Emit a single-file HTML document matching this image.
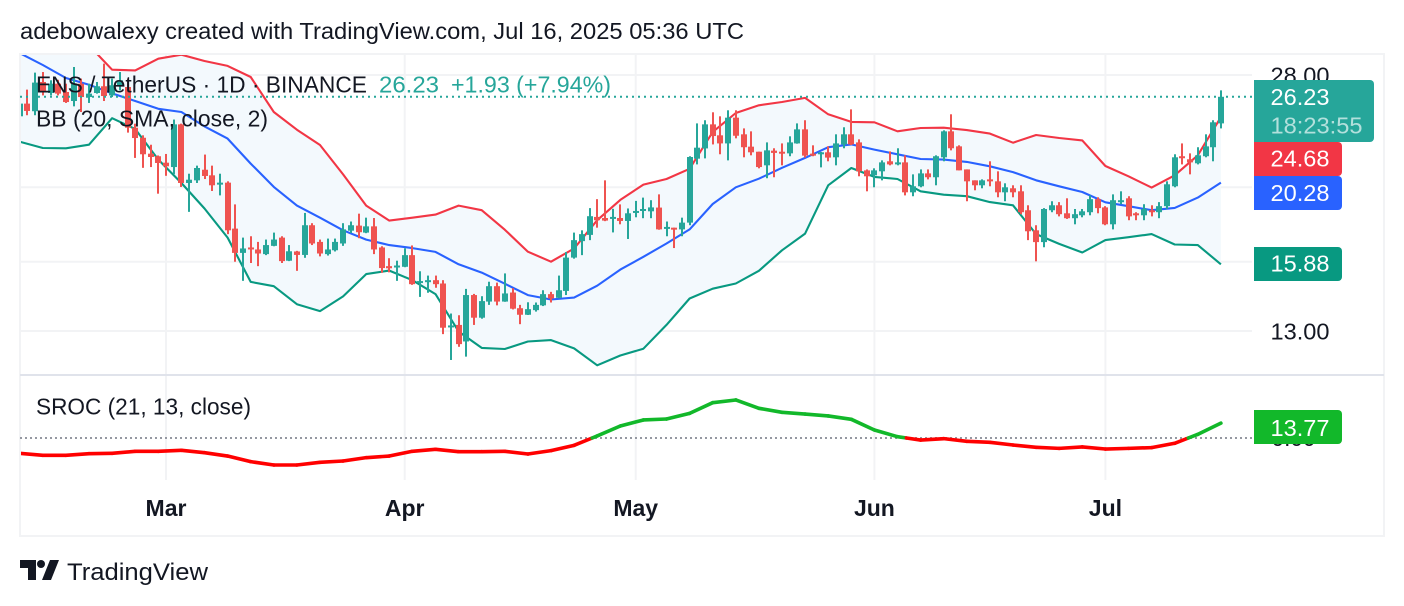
<!DOCTYPE html>
<html lang="en">
<head>
<meta charset="utf-8">
<title>ENS / TetherUS chart</title>
<style>
html,body{margin:0;padding:0;background:#fff;width:1404px;height:606px;overflow:hidden}
svg{display:block}
text{font-family:"Liberation Sans",sans-serif;fill:#131722}
</style>
</head>
<body>
<svg id="chart" xmlns="http://www.w3.org/2000/svg" width="1404" height="606" viewBox="0 0 1404 606">
  <defs>
    <clipPath id="main-clip"><rect x="21" y="55" width="1231" height="319"/></clipPath>
    <clipPath id="sub-clip"><rect x="21" y="376" width="1231" height="104"/></clipPath>
  </defs>
  <rect x="0" y="0" width="1404" height="606" fill="#ffffff"/>
  <text x="20" y="39" font-size="23" textLength="724" lengthAdjust="spacingAndGlyphs">adebowalexy created with TradingView.com, Jul 16, 2025 05:36 UTC</text>
  <rect x="20" y="54" width="1364" height="482" fill="none" stroke="#f2f3f5" stroke-width="2"/>
  <g id="grid"></g>
  <line x1="20" y1="375" x2="1384" y2="375" stroke="#e0e3eb" stroke-width="2"/>
  <g clip-path="url(#main-clip)">
    <polygon id="bb-band" fill="#f3f9fd"/>
    <polyline id="bb-upper" fill="none" stroke="#f23645" stroke-width="2.1" stroke-linejoin="round"/>
    <polyline id="bb-basis" fill="none" stroke="#2962ff" stroke-width="2.1" stroke-linejoin="round"/>
    <polyline id="bb-lower" fill="none" stroke="#089981" stroke-width="2.1" stroke-linejoin="round"/>
    <g id="candles"></g>
  </g>
  <line id="last-price-line" x1="20" x2="1254" stroke="#26a69a" stroke-width="2" stroke-dasharray="2 4"/>
  <line id="zero-line" x1="20" x2="1254" stroke="#9598a1" stroke-width="2" stroke-dasharray="2 3"/>
  <g clip-path="url(#sub-clip)" id="sroc"></g>
  <g id="price-axis"></g>
  <g id="time-axis"></g>

  <text x="36" y="92.5" font-size="23" textLength="331" lengthAdjust="spacingAndGlyphs">ENS / TetherUS · 1D · BINANCE</text>
  <text x="379" y="92.5" font-size="23" style="fill:#26a69a" textLength="60" lengthAdjust="spacingAndGlyphs">26.23</text>
  <text x="451" y="92.5" font-size="23" style="fill:#26a69a" textLength="160" lengthAdjust="spacingAndGlyphs">+1.93 (+7.94%)</text>
  <text x="36" y="126.7" font-size="23" textLength="232" lengthAdjust="spacingAndGlyphs">BB (20, SMA, close, 2)</text>
  <text x="36" y="414.7" font-size="23" textLength="215" lengthAdjust="spacingAndGlyphs">SROC (21, 13, close)</text>

  <path d="M1254 80H1370a4 4 0 0 1 4 4V138a4 4 0 0 1-4 4H1254Z" fill="#26a69a"/>
  <text x="1270.5" y="105" font-size="23" style="fill:#ffffff" textLength="59" lengthAdjust="spacingAndGlyphs">26.23</text>
  <text x="1270.5" y="133.3" font-size="23" style="fill:#ffffff;fill-opacity:.65" textLength="92" lengthAdjust="spacingAndGlyphs">18:23:55</text>
  <path d="M1254 142H1338a4 4 0 0 1 4 4V172a4 4 0 0 1-4 4H1254Z" fill="#f23645"/>
  <text x="1270.5" y="166.7" font-size="23" style="fill:#ffffff" textLength="59" lengthAdjust="spacingAndGlyphs">24.68</text>
  <path d="M1254 176H1338a4 4 0 0 1 4 4V206a4 4 0 0 1-4 4H1254Z" fill="#2962ff"/>
  <text x="1270.5" y="201" font-size="23" style="fill:#ffffff" textLength="59" lengthAdjust="spacingAndGlyphs">20.28</text>
  <path d="M1254 247H1338a4 4 0 0 1 4 4V277a4 4 0 0 1-4 4H1254Z" fill="#089981"/>
  <text x="1270.5" y="271.7" font-size="23" style="fill:#ffffff" textLength="59" lengthAdjust="spacingAndGlyphs">15.88</text>
  <text x="1271.5" y="446" font-size="23" textLength="44" lengthAdjust="spacingAndGlyphs">0.00</text>
  <path d="M1254 410H1338a4 4 0 0 1 4 4V440a4 4 0 0 1-4 4H1254Z" fill="#12b82a"/>
  <text x="1270.5" y="436" font-size="23" style="fill:#ffffff" textLength="59" lengthAdjust="spacingAndGlyphs">13.77</text>

  <g>
    <path d="M20 560H36V580H28V568H20Z M50 560H59L51 580H42Z" fill="#131722"/>
    <circle cx="41" cy="564" r="4" fill="#131722"/>
    <text x="67" y="580" font-size="24.5" textLength="141" lengthAdjust="spacingAndGlyphs">TradingView</text>
  </g>
</svg>
<script>
const opens = [
24.74,25.70,25.12,27.42,26.53,27.28,26.61,25.90,27.28,26.21,26.53,27.07,26.34,27.15,27.01,23.91,23.20,22.12,21.95,
21.53,21.25,24.15,20.26,20.42,21.08,20.73,20.22,20.28,17.67,16.43,16.70,16.60,16.37,16.78,17.20,16.05,16.50,16.33,17.85,16.98,16.37,16.56,16.90,17.56,17.83,17.46,17.79,16.70,15.79,15.76,
15.76,16.32,15.03,15.07,15.14,14.99,13.20,13.24,12.60,14.48,13.53,14.20,14.87,14.20,14.59,13.92,13.65,13.84,14.04,14.52,14.36,14.66,16.20,17.02,17.34,18.30,18.24,18.22,18.24,18.08,
18.55,18.63,18.61,18.82,17.67,17.72,17.63,17.99,21.79,22.47,24.15,23.37,22.81,24.64,23.44,22.59,22.25,21.36,22.32,22.25,22.14,22.81,23.79,22.12,22.08,22.21,21.88,22.74,23.44,22.88,21.04,
20.73,20.98,21.62,21.42,21.55,19.70,20.06,20.85,20.61,21.88,23.65,22.61,21.10,20.42,20.12,20.48,20.36,19.70,19.94,19.76,18.67,17.58,16.97,18.67,18.95,18.50,18.23,18.39,18.56,19.30,
18.83,17.90,19.13,19.35,18.50,18.39,18.67,18.56,18.90,20.06,21.95,21.75,21.49,21.95,22.55,24.22];
const highs = [
25.82,26.80,28.20,28.25,27.56,27.60,27.28,28.68,27.70,27.28,27.42,28.97,27.70,28.25,27.70,24.20,23.37,22.72,22.00,
22.10,24.50,24.20,20.83,21.34,22.06,21.34,20.83,20.36,19.00,17.20,17.27,16.98,17.10,17.46,17.27,16.82,16.53,18.52,17.96,17.10,17.15,17.15,17.96,18.05,18.48,18.26,18.24,16.76,16.17,16.05,
16.66,16.80,15.55,15.35,15.35,15.14,13.70,13.63,14.75,14.53,14.43,15.07,15.03,15.45,14.78,14.06,14.17,14.16,14.69,14.62,15.35,16.47,17.46,17.58,18.79,19.30,20.42,18.75,19.00,18.77,
19.20,19.39,19.24,19.58,18.05,17.72,18.26,21.95,24.22,24.45,25.04,24.74,25.19,25.19,23.86,23.65,22.25,22.88,22.48,22.81,23.30,24.22,24.45,22.68,22.23,22.61,23.44,23.94,25.26,23.09,21.10,
21.17,21.68,22.27,22.48,22.01,20.79,21.10,21.10,22.01,23.72,24.89,22.68,21.10,20.42,20.48,21.62,20.98,20.24,20.12,20.12,18.95,17.85,18.79,19.18,19.13,19.35,18.74,18.74,19.52,19.41,
18.90,19.58,19.76,19.47,18.56,19.01,18.95,19.13,20.36,22.08,22.81,22.14,22.55,23.44,24.45,26.74];
const lows = [
23.96,24.82,24.82,26.34,26.34,26.34,25.75,25.49,25.06,25.75,26.48,25.90,26.21,26.74,23.56,21.84,21.20,21.25,19.62,
20.70,20.80,20.02,18.58,20.26,20.50,19.78,19.52,17.38,16.00,15.11,15.94,15.79,16.32,16.76,15.94,16.03,15.57,16.19,16.82,16.26,16.30,16.50,16.78,17.44,17.17,17.43,16.37,15.48,15.50,15.11,
15.74,14.93,14.40,14.58,14.80,12.88,11.92,12.40,12.04,13.24,13.49,14.06,14.04,14.19,13.87,13.27,13.64,13.78,14.01,14.16,14.34,14.48,16.15,16.32,17.07,17.72,18.07,17.47,17.90,17.13,
18.28,18.23,18.23,17.61,17.27,16.67,17.27,17.85,21.42,21.81,22.74,22.08,21.68,23.16,21.88,22.01,21.17,20.55,20.61,21.36,21.95,22.79,21.86,21.95,21.23,21.62,21.36,22.48,22.70,20.67,19.76,
20.00,20.42,21.36,21.36,19.52,19.47,20.00,20.48,20.12,21.62,22.34,21.04,19.18,19.82,19.94,20.06,19.41,19.18,19.41,18.45,17.07,16.02,16.71,18.56,18.33,18.19,17.90,18.28,18.39,18.50,
17.85,17.63,19.01,18.12,18.12,18.12,18.33,18.23,18.74,20.00,21.42,20.79,21.42,21.88,21.62,23.86];
const closes = [
25.70,25.14,27.37,26.61,27.28,26.48,25.82,27.28,26.21,26.48,27.07,26.29,27.15,27.56,23.91,23.18,22.08,21.90,21.51,
21.30,24.15,20.26,20.46,21.19,20.69,20.12,20.28,17.58,16.43,16.65,16.62,16.40,16.82,17.10,16.03,16.51,16.33,17.85,16.90,16.40,16.60,16.98,17.63,17.85,17.48,17.79,16.60,15.70,15.69,15.82,
16.32,14.96,15.10,15.14,14.96,13.13,13.22,12.50,14.48,13.53,14.22,14.87,14.20,14.55,13.90,13.65,13.88,14.06,14.52,14.33,14.69,16.20,17.07,17.38,18.34,18.12,18.10,18.30,18.08,18.50,
18.63,18.74,18.83,17.63,17.76,17.65,17.99,21.90,22.52,24.15,23.32,22.81,24.64,23.34,22.55,22.21,21.25,22.34,22.17,22.19,22.88,23.79,21.99,22.01,22.21,21.86,22.81,23.44,22.74,20.98,20.67,
21.04,21.55,21.42,21.55,19.70,20.06,20.85,20.61,21.95,23.65,22.48,21.04,20.36,20.12,20.42,20.36,19.70,20.00,19.70,18.56,17.53,16.97,18.74,18.95,18.45,18.23,18.45,18.61,19.30,18.79,
17.90,19.24,19.24,18.33,18.43,18.74,18.56,18.90,20.18,21.88,21.84,21.55,22.01,22.61,24.30,26.23];

const sampleStep = 3;
const bbUpper = [31.5,31.5,31.2,30.6,28.45,28.39,29.4,29.76,29.2,28.77,27.83,25.06,23.77,22.7,20.79,18.93,18.10,18.26,18.43,18.93,18.67,17.61,16.49,16.0,16.65,18.12,19.26,20.16,20.5,21.14,23.6,24.99,25.57,25.82,26.14,24.89,24.33,24.3,23.65,23.89,23.91,23.74,23.49,22.86,23.39,23.18,23.02,21.32,20.67,19.98,20.73,22.01,24.68];
const bbBasis = [29.9,28.85,27.75,27.2,26.5,25.9,25.3,25.06,24.0,23.14,21.47,20.02,18.93,18.26,17.58,17.1,16.82,16.67,16.48,15.88,15.49,14.98,14.48,14.29,14.37,14.89,15.63,16.24,16.9,17.63,19.02,20.0,20.52,21.2,21.84,22.55,22.74,22.39,22.08,21.77,21.73,21.58,21.3,20.93,20.42,20.06,19.72,19.12,18.9,18.67,18.8,19.39,20.28];
const bbLower = [22.93,22.5,22.48,22.72,24.6,23.82,21.73,20.26,18.77,17.2,15.06,14.87,14.09,13.8,14.42,15.42,15.58,15.14,14.52,12.98,12.36,12.32,12.6,12.65,12.34,11.73,12.08,12.33,13.24,14.33,14.76,14.99,15.57,16.56,17.41,20.12,21.19,20.63,20.5,19.76,19.56,19.47,19.13,18.95,17.38,16.88,16.45,17.07,17.22,17.38,16.85,16.82,15.88];
const srocValues = [-14.2,-16,-16,-14.5,-14.2,-12.3,-12.3,-11.4,-13.6,-16.7,-21.9,-25,-25,-22.5,-21.3,-18.2,-16.7,-12.3,-10.5,-12.7,-12.7,-12.3,-14.8,-11.7,-6.8,1.9,11.1,16.7,17.6,22.8,32.7,35.2,27.5,23.8,22.2,20.4,17.3,7.4,1.2,-1.9,-0.6,-3.1,-4,-6.5,-8.6,-9.6,-8.3,-10.2,-9.6,-8.9,-4.9,3.4,13.77];

const priceTicks = [28, 20, 16, 13];
const priceTickLabels = ["28.00", "20.00", "16.00", "13.00"];
const monthLabels = ["Mar", "Apr", "May", "Jun", "Jul"];
const monthDayIndex = [19, 50, 80, 111, 141];
const lastPrice = 26.23;

const NS = "http://www.w3.org/2000/svg";
function xAt(day) { return 166 + (day - 19) * 7.7; }
function yPrice(p) { return 75 + 333.7 * Math.log(28 / p); }
function ySroc(v) { return 438 - 1.08 * v; }
function make(tag, attrs) {
  const el = document.createElementNS(NS, tag);
  for (const k in attrs) el.setAttribute(k, attrs[k]);
  return el;
}
function linePoints(values) {
  return values.map(function (v, k) { return xAt(k * sampleStep).toFixed(1) + "," + yPrice(v).toFixed(1); });
}

const gridGroup = document.getElementById("grid");
priceTicks.forEach(function (p) {
  const y = yPrice(p);
  const line = make("line", { x1: 20, x2: 1252, y1: y, y2: y, stroke: "#f2f3f5", "stroke-width": 2 });
  
  
  gridGroup.appendChild(line);
});
monthDayIndex.forEach(function (d) {
  const x = xAt(d);
  const line = make("line", { x1: x, x2: x, y1: 54, y2: 480, stroke: "#f2f3f5", "stroke-width": 2 });
  
  
  gridGroup.appendChild(line);
});

const upperPts = linePoints(bbUpper);
const basisPts = linePoints(bbBasis);
const lowerPts = linePoints(bbLower);
document.getElementById("bb-upper").setAttribute("points", upperPts.join(" "));
document.getElementById("bb-basis").setAttribute("points", basisPts.join(" "));
document.getElementById("bb-lower").setAttribute("points", lowerPts.join(" "));
document.getElementById("bb-band").setAttribute("points", upperPts.concat(lowerPts.slice().reverse()).join(" "));

const candleGroup = document.getElementById("candles");
opens.forEach(function (o, i) {
  const c = closes[i];
  const up = c >= o;
  const color = up ? "#26a69a" : "#ef5350";
  const x = Math.round(xAt(i));
  const top = yPrice(Math.max(o, c));
  const bottom = yPrice(Math.min(o, c));
  const wick = make("rect", { x: x - 1, y: yPrice(highs[i]), width: 2, height: Math.max(1, yPrice(lows[i]) - yPrice(highs[i])), fill: color });
  
  
  candleGroup.appendChild(wick);
  const body = make("rect", { x: x - 3, y: top, width: 6, height: Math.max(2, bottom - top), fill: color });
  
  
  candleGroup.appendChild(body);
});

const lastY = yPrice(lastPrice);
const lastLine = document.getElementById("last-price-line");
lastLine.setAttribute("y1", lastY);
lastLine.setAttribute("y2", lastY);
const zeroLine = document.getElementById("zero-line");
zeroLine.setAttribute("y1", ySroc(0));
zeroLine.setAttribute("y2", ySroc(0));

const srocGroup = document.getElementById("sroc");
function srocSegment(x1, y1, x2, y2, positive) {
  const seg = make("line", { x1: x1, y1: y1, x2: x2, y2: y2, stroke: positive ? "#12b82a" : "#ff0000", "stroke-width": 3.6, "stroke-linecap": "round" });
  
  
  srocGroup.appendChild(seg);
}
for (let k = 0; k < srocValues.length - 1; k++) {
  const a = srocValues[k], b = srocValues[k + 1];
  const xa = xAt(k * sampleStep), xb = xAt((k + 1) * sampleStep);
  if ((a >= 0) === (b >= 0)) {
    srocSegment(xa, ySroc(a), xb, ySroc(b), a >= 0);
  } else {
    const xm = xa + (xb - xa) * (a / (a - b));
    srocSegment(xa, ySroc(a), xm, ySroc(0), a >= 0);
    srocSegment(xm, ySroc(0), xb, ySroc(b), b >= 0);
  }
}

const priceAxis = document.getElementById("price-axis");
priceTicks.forEach(function (p, i) {
  const t = make("text", { x: 1270.5, y: yPrice(p) + 8.3, "font-size": 23, textLength: 59, lengthAdjust: "spacingAndGlyphs" });
  t.textContent = priceTickLabels[i];
  
  
  priceAxis.appendChild(t);
});

const timeAxis = document.getElementById("time-axis");
monthLabels.forEach(function (m, i) {
  const t = make("text", { x: xAt(monthDayIndex[i]), y: 516, "font-size": 23, "font-weight": 700, "text-anchor": "middle" });
  t.textContent = m;
  
  
  timeAxis.appendChild(t);
});
</script>
</body>
</html>
